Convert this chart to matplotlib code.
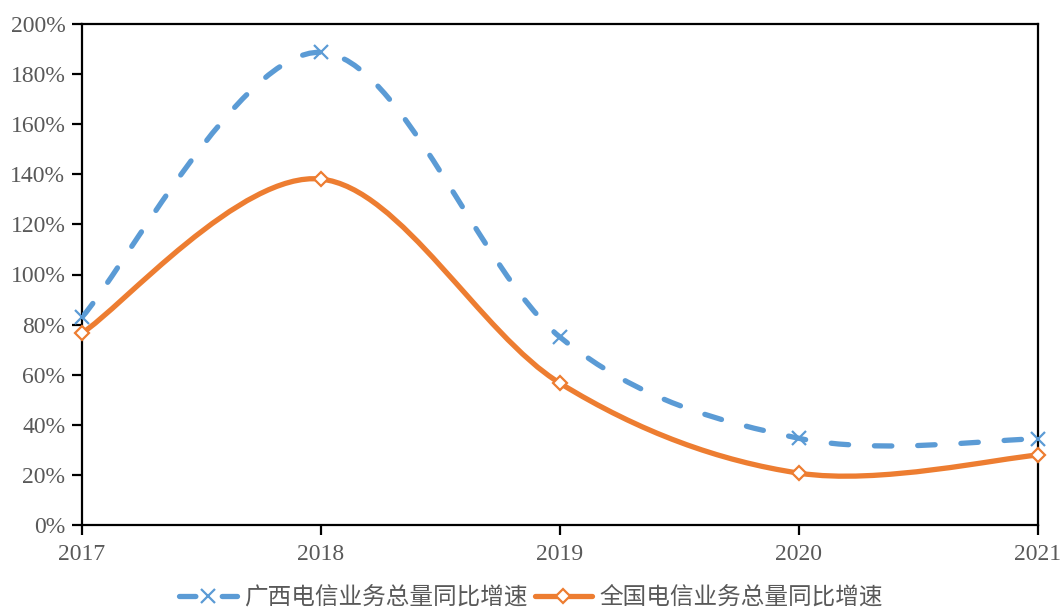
import numpy as np
import matplotlib
matplotlib.use("Agg")
import matplotlib.pyplot as plt
from matplotlib.path import Path
from matplotlib.patches import PathPatch
from matplotlib.lines import Line2D

years = ["2017", "2018", "2019", "2020", "2021"]
guangxi = [83.0, 188.7, 75.0, 34.6, 34.4]
national = [76.6, 138.1, 56.6, 20.7, 27.9]
y_ticks = [0, 20, 40, 60, 80, 100, 120, 140, 160, 180, 200]
label_gx = "广西电信业务总量同比增速"
label_cn = "全国电信业务总量同比增速"

blue = "#5B9BD5"
orange = "#ED7D31"
grey = "#595959"

fig = plt.figure(figsize=(10.62, 6.08), dpi=100)
ax = fig.add_axes([82/1062, 1-525/608, (1038-82)/1062, (525-24)/608])
x = np.arange(len(years))
ax.set_xlim(0, len(years)-1)
ax.set_ylim(0, 200)


def smooth_path(xs, ys):
    pts = ax.transData.transform(np.column_stack([xs, ys]))
    n = len(pts)
    verts = [pts[0]]
    codes = [Path.MOVETO]
    for i in range(n-1):
        p0 = pts[i-1] if i > 0 else pts[i]
        p1 = pts[i]
        p2 = pts[i+1]
        p3 = pts[i+2] if i+2 < n else pts[i+1]
        c1 = p1 + (p2 - p0) / 6
        c2 = p2 - (p3 - p1) / 6
        verts += [c1, c2, p2]
        codes += [Path.CURVE4]*3
    verts = ax.transData.inverted().transform(np.array(verts))
    return Path(verts, codes)


lw = 3.8
dash = (0, (3.3, 4.9))
p1 = PathPatch(smooth_path(x, guangxi), fill=False, edgecolor=blue, lw=lw,
               linestyle=dash, zorder=3)
p1.set_capstyle('round')
ax.add_patch(p1)
p2 = PathPatch(smooth_path(x, national), fill=False, edgecolor=orange, lw=lw, zorder=3)
p2.set_capstyle('round')
ax.add_patch(p2)
ax.plot(x, guangxi, linestyle='none', marker='x', ms=10, mew=1.6, color=blue, zorder=4, clip_on=False)
ax.plot(x, national, linestyle='none', marker='D', ms=7.5, mew=1.6, mec=orange, mfc='white', zorder=4, clip_on=False)

ax.set_xticks(x)
ax.set_xticklabels(years)
ax.set_yticks(y_ticks)
ax.set_yticklabels([f"{v}%" for v in y_ticks])
for s in ax.spines.values():
    s.set_linewidth(1.6)
    s.set_color('black')
ax.tick_params(axis='both', direction='out', length=7, width=1.6, color='black',
               labelcolor=grey, labelsize=17)
ax.tick_params(axis='x', pad=7)
ax.tick_params(axis='y', pad=5)
for lab in ax.get_xticklabels() + ax.get_yticklabels():
    lab.set_fontfamily('Liberation Serif')

h1 = Line2D([], [], color=blue, lw=lw, linestyle=(0, (3.1, 5.0)), dash_capstyle='round',
            marker='x', ms=10, mew=1.6)
h2 = Line2D([], [], color=orange, lw=lw, marker='D', ms=7.5, mew=1.6, mfc='white', mec=orange,
            solid_capstyle='round')
leg = fig.legend([h1, h2], [label_gx, label_cn], loc='center', bbox_to_anchor=(531/1062, 1-598/608),
                 ncol=2, frameon=False, handlelength=2.45, handletextpad=0.3, columnspacing=0.3,
                 prop={'family': ['Noto Sans CJK SC', 'DejaVu Sans'], 'size': 17})
for t in leg.get_texts():
    t.set_color(grey)

fig.savefig("out.png", dpi=100)
